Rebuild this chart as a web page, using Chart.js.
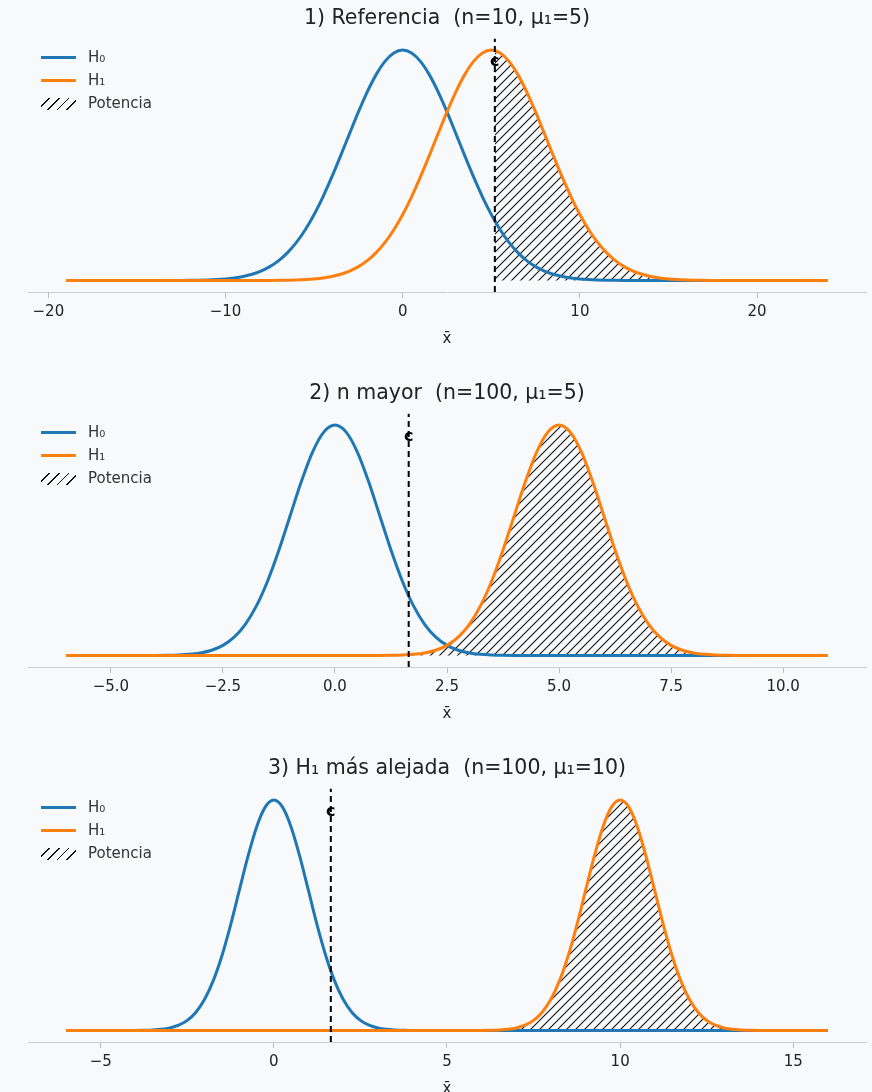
<!DOCTYPE html>
<html>
<head>
<meta charset="utf-8">
<script src="https://cdn.jsdelivr.net/npm/chart.js@4.4.1/dist/chart.umd.min.js"></script>
<style>
body{margin:0;background:#f8f9fb;width:872px;height:1092px;overflow:hidden;font-family:"DejaVu Sans",sans-serif;}
.panel{position:absolute;left:0;width:872px;height:375px;}
.legend{position:absolute;left:41px;top:46px;font-size:15px;color:#333;}
.row{height:23px;line-height:23px;display:flex;align-items:center;}
.sw{display:inline-block;width:35px;height:3px;margin-right:12px;}
.hatch{height:12px;background:repeating-linear-gradient(135deg,transparent 0 5.5px,#111 5.5px 6.8px);}
</style>
</head>
<body>
<div class="panel" style="top:0"><canvas id="g1" width="872" height="375"></canvas>
  <div class="legend"><div class="row"><span class="sw" style="background:#1f77b4"></span>H₀</div><div class="row"><span class="sw" style="background:#ff7f0e"></span>H₁</div><div class="row"><span class="sw hatch"></span>Potencia</div></div></div>
<div class="panel" style="top:375px"><canvas id="g2" width="872" height="375"></canvas>
  <div class="legend"><div class="row"><span class="sw" style="background:#1f77b4"></span>H₀</div><div class="row"><span class="sw" style="background:#ff7f0e"></span>H₁</div><div class="row"><span class="sw hatch"></span>Potencia</div></div></div>
<div class="panel" style="top:750px"><canvas id="g3" width="872" height="375"></canvas>
  <div class="legend"><div class="row"><span class="sw" style="background:#1f77b4"></span>H₀</div><div class="row"><span class="sw" style="background:#ff7f0e"></span>H₁</div><div class="row"><span class="sw hatch"></span>Potencia</div></div></div>
<script>
// 1) Referencia n=10, mu1=5
var h0x_1 = [-19,-13,-12.5,-12,-11.5,-11,-10.5,-10,-9.5,-9,-8.5,-8,-7.5,-7,-6.5,-6,-5.5,-5,-4.5,-4,-3.5,-3,-2.5,-2,-1.5,-1,-0.5,0,0.5,1,1.5,2,2.5,3,3.5,4,4.5,5,5.5,6,6.5,7,7.5,8,8.5,9,9.5,10,10.5,11,11.5,12,12.5,13,24];
var h0y_1 = [0,0.00003,0.00005,0.00009,0.00017,0.00030,0.00051,0.00085,0.00138,0.00220,0.00340,0.00515,0.00758,0.01089,0.01526,0.02085,0.02780,0.03614,0.04584,0.05669,0.06838,0.08044,0.09230,0.10329,0.11274,0.12001,0.12459,0.12616,0.12459,0.12001,0.11274,0.10329,0.09230,0.08044,0.06838,0.05669,0.04584,0.03614,0.02780,0.02085,0.01526,0.01089,0.00758,0.00515,0.00340,0.00220,0.00138,0.00085,0.00051,0.00030,0.00017,0.00009,0.00005,0.00003,0];
var h1x_1 = [-19,-8,-7.5,-7,-6.5,-6,-5.5,-5,-4.5,-4,-3.5,-3,-2.5,-2,-1.5,-1,-0.5,0,0.5,1,1.5,2,2.5,3,3.5,4,4.5,5,5.5,6,6.5,7,7.5,8,8.5,9,9.5,10,10.5,11,11.5,12,12.5,13,13.5,14,14.5,15,15.5,16,16.5,17,17.5,18,24];
var h1y_1 = [0,0.00003,0.00005,0.00009,0.00017,0.00030,0.00051,0.00085,0.00138,0.00220,0.00340,0.00515,0.00758,0.01089,0.01526,0.02085,0.02780,0.03614,0.04584,0.05669,0.06838,0.08044,0.09230,0.10329,0.11274,0.12001,0.12459,0.12616,0.12459,0.12001,0.11274,0.10329,0.09230,0.08044,0.06838,0.05669,0.04584,0.03614,0.02780,0.02085,0.01526,0.01089,0.00758,0.00515,0.00340,0.00220,0.00138,0.00085,0.00051,0.00030,0.00017,0.00009,0.00005,0.00003,0];
var c1 = 5.2, h1c1 = 0.1259;
var ticks1 = [-20,-10,0,10,20];

// 2) n mayor n=100, mu1=5
var h0x_2 = [-6,-4.5,-4.25,-4,-3.75,-3.5,-3.25,-3,-2.75,-2.5,-2.25,-2,-1.75,-1.5,-1.25,-1,-0.75,-0.5,-0.25,0,0.25,0.5,0.75,1,1.25,1.5,1.75,2,2.25,2.5,2.75,3,3.25,3.5,3.75,4,4.25,4.5,11];
var h0y_2 = [0,0.00002,0.00005,0.00013,0.00035,0.00087,0.0020,0.0044,0.0091,0.0175,0.0317,0.0540,0.0863,0.1295,0.1826,0.2420,0.3011,0.3521,0.3867,0.3989,0.3867,0.3521,0.3011,0.2420,0.1826,0.1295,0.0863,0.0540,0.0317,0.0175,0.0091,0.0044,0.0020,0.00087,0.00035,0.00013,0.00005,0.00002,0];
var h1x_2 = [-6,0.5,0.75,1,1.25,1.5,1.75,2,2.25,2.5,2.75,3,3.25,3.5,3.75,4,4.25,4.5,4.75,5,5.25,5.5,5.75,6,6.25,6.5,6.75,7,7.25,7.5,7.75,8,8.25,8.5,8.75,9,9.25,9.5,11];
var h1y_2 = [0,0.00002,0.00005,0.00013,0.00035,0.00087,0.0020,0.0044,0.0091,0.0175,0.0317,0.0540,0.0863,0.1295,0.1826,0.2420,0.3011,0.3521,0.3867,0.3989,0.3867,0.3521,0.3011,0.2420,0.1826,0.1295,0.0863,0.0540,0.0317,0.0175,0.0091,0.0044,0.0020,0.00087,0.00035,0.00013,0.00005,0.00002,0];
var c2 = 1.645, h1c2 = 0.00143;
var ticks2 = [-5,-2.5,0,2.5,5,7.5,10];

// 3) H1 mas alejada n=100, mu1=10
var h0x_3 = [-6,-4.5,-4.25,-4,-3.75,-3.5,-3.25,-3,-2.75,-2.5,-2.25,-2,-1.75,-1.5,-1.25,-1,-0.75,-0.5,-0.25,0,0.25,0.5,0.75,1,1.25,1.5,1.75,2,2.25,2.5,2.75,3,3.25,3.5,3.75,4,4.25,4.5,16];
var h0y_3 = [0,0.00002,0.00005,0.00013,0.00035,0.00087,0.0020,0.0044,0.0091,0.0175,0.0317,0.0540,0.0863,0.1295,0.1826,0.2420,0.3011,0.3521,0.3867,0.3989,0.3867,0.3521,0.3011,0.2420,0.1826,0.1295,0.0863,0.0540,0.0317,0.0175,0.0091,0.0044,0.0020,0.00087,0.00035,0.00013,0.00005,0.00002,0];
var h1x_3 = [-6,5.5,5.75,6,6.25,6.5,6.75,7,7.25,7.5,7.75,8,8.25,8.5,8.75,9,9.25,9.5,9.75,10,10.25,10.5,10.75,11,11.25,11.5,11.75,12,12.25,12.5,12.75,13,13.25,13.5,13.75,14,14.25,14.5,16];
var h1y_3 = [0,0.00002,0.00005,0.00013,0.00035,0.00087,0.0020,0.0044,0.0091,0.0175,0.0317,0.0540,0.0863,0.1295,0.1826,0.2420,0.3011,0.3521,0.3867,0.3989,0.3867,0.3521,0.3011,0.2420,0.1826,0.1295,0.0863,0.0540,0.0317,0.0175,0.0091,0.0044,0.0020,0.00087,0.00035,0.00013,0.00005,0.00002,0];
var c3 = 1.645, h1c3 = 0;
var ticks3 = [-5,0,5,10,15];

Chart.defaults.font.family = '"DejaVu Sans", sans-serif';

function pts(xs, ys){
    return xs.map(function(x,i){ return {x:x, y:ys[i]}; });
}
function powerPts(xs, ys, c, yc){
    var p = [{x:c, y:yc}];
    xs.forEach(function(x,i){ if(x > c) p.push({x:x, y:ys[i]}); });
    return p;
}
function hatchPattern(){
    var s = 9, cv = document.createElement('canvas');
    cv.width = s; cv.height = s;
    var g = cv.getContext('2d');
    g.strokeStyle = '#111'; g.lineWidth = 1.1;
    g.beginPath();
    g.moveTo(0, s); g.lineTo(s, 0);
    g.moveTo(-s/2, s/2); g.lineTo(s/2, -s/2);
    g.moveTo(s/2, s*1.5); g.lineTo(s*1.5, s/2);
    g.stroke();
    return g.createPattern(cv, 'repeat');
}
var cLabel = {
    id: 'cLabel',
    afterDatasetsDraw: function(chart){
        var o = chart.options.plugins.cLabel;
        var ctx = chart.ctx;
        ctx.save();
        ctx.font = 'bold 16px "DejaVu Sans"';
        ctx.fillStyle = '#000';
        ctx.textAlign = 'center';
        ctx.textBaseline = 'middle';
        ctx.fillText('c', chart.scales.x.getPixelForValue(o.c), chart.scales.y.getPixelForValue(o.y));
        ctx.restore();
    }
};

function Graficar(id, info){
    var peak = Math.max.apply(null, info.h0y.concat(info.h1y));
    var xmin = info.h0x[0], xmax = info.h0x[info.h0x.length-1];
    var mx = (xmax - xmin) * 0.05;
    var ymin = -0.05*peak, ymax = 1.05*peak;
    new Chart(document.getElementById(id).getContext('2d'), {
        type: 'line',
        data: {
            datasets: [{
                data: [{x:info.c, y:ymin}, {x:info.c, y:ymax}],
                borderColor: '#000', borderWidth: 2, borderDash: [6,4], tension: 0,
                pointRadius: 0, fill: false, order: 0
            }, {
                label: 'H₁', data: pts(info.h1x, info.h1y),
                borderColor: '#ff7f0e', borderWidth: 3, pointRadius: 0,
                cubicInterpolationMode: 'monotone', fill: false, order: 1
            }, {
                label: 'H₀', data: pts(info.h0x, info.h0y),
                borderColor: '#1f77b4', borderWidth: 3, pointRadius: 0,
                cubicInterpolationMode: 'monotone', fill: false, order: 2
            }, {
                label: 'Potencia', data: powerPts(info.h1x, info.h1y, info.c, info.hc),
                borderWidth: 0, borderColor: 'rgba(0,0,0,0)', backgroundColor: hatchPattern(),
                pointRadius: 0, cubicInterpolationMode: 'monotone', fill: 'origin', order: 3
            }]
        },
        options: {
            responsive: false,
            animation: false,
            layout: { padding: { left: 28, right: 6, top: 0, bottom: 23 } },
            plugins: {
                legend: { display: false },
                tooltip: { enabled: false },
                title: {
                    display: true, text: info.title, color: '#222',
                    font: { size: 20.5, weight: 'normal' },
                    padding: { top: 6, bottom: 8 }
                },
                cLabel: { c: info.c, y: 0.95*peak }
            },
            scales: {
                x: {
                    type: 'linear', min: xmin - mx, max: xmax + mx,
                    afterBuildTicks: function(s){ s.ticks = info.ticks.map(function(v){ return {value:v}; }); },
                    ticks: {
                        color: '#222', font: { size: 15 }, padding: 5, maxRotation: 0,
                        callback: function(v){
                            var t = info.dec ? Math.abs(v).toFixed(1) : String(Math.abs(v));
                            return (v < 0 ? '\u2212' : '') + t;
                        }
                    },
                    grid: { drawOnChartArea: false, drawTicks: true, tickLength: 6, color: '#bbb' },
                    border: { display: true, color: '#ccc', width: 1 },
                    title: { display: true, text: 'x̄', color: '#222', font: { size: 15 }, padding: { top: 4, bottom: 4 } }
                },
                y: { display: false, min: ymin, max: ymax }
            }
        },
        plugins: [cLabel]
    });
}

Graficar('g1', { h0x:h0x_1, h0y:h0y_1, h1x:h1x_1, h1y:h1y_1, c:c1, hc:h1c1, ticks:ticks1, dec:false, title:'1) Referencia  (n=10, μ₁=5)' });
Graficar('g2', { h0x:h0x_2, h0y:h0y_2, h1x:h1x_2, h1y:h1y_2, c:c2, hc:h1c2, ticks:ticks2, dec:true, title:'2) n mayor  (n=100, μ₁=5)' });
Graficar('g3', { h0x:h0x_3, h0y:h0y_3, h1x:h1x_3, h1y:h1y_3, c:c3, hc:h1c3, ticks:ticks3, dec:false, title:'3) H₁ más alejada  (n=100, μ₁=10)' });
</script>
</body>
</html>
